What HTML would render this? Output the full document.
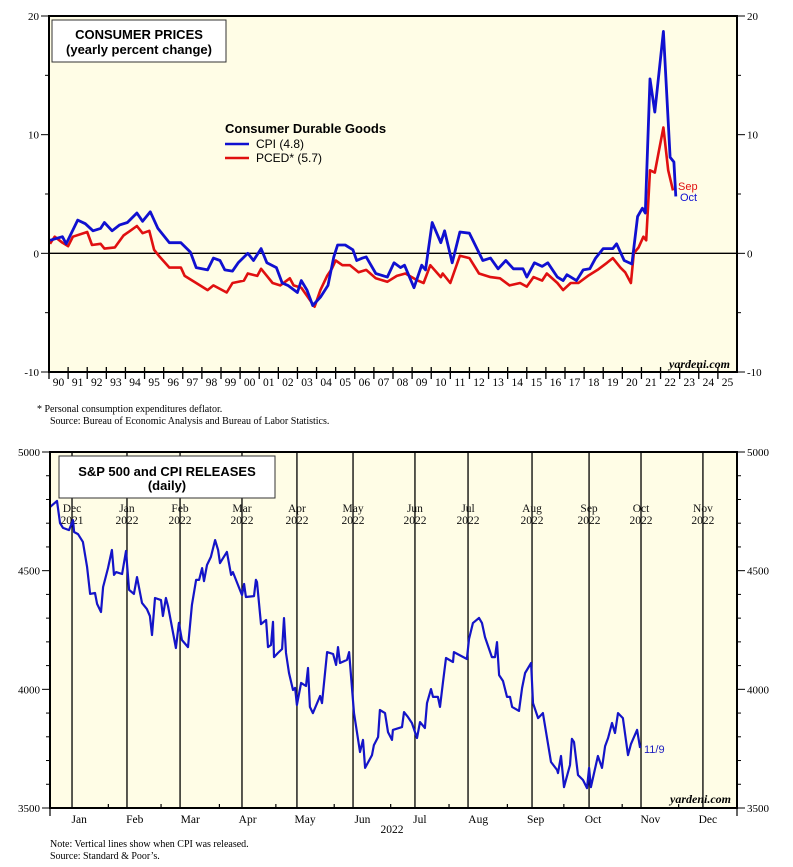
<!DOCTYPE html>
<html><head><meta charset="utf-8">
<style>
html,body{margin:0;padding:0;background:#fff;}
svg{display:block;}
.serif{font-family:"Liberation Serif",serif;}
.sans{font-family:"Liberation Sans",sans-serif;}
</style></head>
<body>
<svg id="svg" width="793" height="867" viewBox="0 0 793 867" xmlns="http://www.w3.org/2000/svg">
<rect x="0" y="0" width="793" height="867" fill="#fff"/>
</svg>
<script>
// ===== Top chart data =====
const cpiYears=[1990.05,1990.7,1990.9,1991.5,1991.9,1992.3,1992.7,1992.9,1993.3,1993.7,1994.1,1994.6,1994.9,1995.3,1995.7,1996.3,1996.9,1997.4,1997.7,1998.3,1998.6,1998.95,1999.2,1999.6,1999.9,2000.4,2000.7,2001.1,2001.4,2001.9,2002.2,2002.5,2003.0,2003.2,2003.5,2003.8,2004.2,2004.6,2004.9,2005.1,2005.5,2005.9,2006.1,2006.4,2006.6,2007.1,2007.7,2008.05,2008.4,2008.6,2009.1,2009.5,2009.7,2010.05,2010.5,2010.7,2011.1,2011.5,2012.0,2012.7,2013.1,2013.5,2013.9,2014.3,2014.8,2015.0,2015.4,2015.8,2016.1,2016.6,2016.9,2017.1,2017.6,2017.95,2018.3,2018.6,2019.0,2019.5,2019.7,2020.1,2020.5,2020.8,2021.05,2021.2,2021.45,2021.7,2022.15,2022.5,2022.7,2022.8];
const cpiValues=[1.1,1.4,0.8,2.8,2.5,1.9,2.1,2.6,1.9,2.4,2.6,3.4,2.7,3.5,2.1,0.9,0.9,0.1,-1.2,-1.4,-0.4,-0.6,-1.4,-1.5,-0.8,0,-0.6,0.4,-0.8,-1.2,-2.5,-2.7,-3.3,-2.3,-3.1,-4.4,-3.7,-2.7,-0.3,0.7,0.7,0.3,-0.6,-0.4,-0.3,-1.7,-2.0,-0.8,-1.2,-1.0,-2.9,-1.0,-1.4,2.6,0.9,1.9,-0.8,1.8,1.7,-0.6,-0.4,-1.3,-0.6,-1.3,-1.3,-2.0,-0.8,-1.1,-0.8,-2.0,-2.3,-1.8,-2.3,-1.4,-1.3,-0.4,0.4,0.4,0.8,-0.6,-0.9,3.1,3.8,3.4,14.7,11.9,18.7,8.1,7.7,4.8];
const pcedYears=[1990.05,1990.3,1990.7,1991.0,1991.25,1992.0,1992.25,1992.7,1992.9,1993.45,1993.9,1994.25,1994.6,1994.9,1995.25,1995.5,1995.8,1996.3,1996.9,1997.1,1997.7,1998.3,1998.6,1999.3,1999.6,2000.2,2000.4,2000.9,2001.1,2001.4,2001.7,2002.1,2002.6,2002.8,2003.2,2003.55,2003.9,2004.2,2004.55,2004.8,2005.0,2005.35,2005.75,2006.2,2006.6,2007.1,2007.7,2008.2,2008.65,2009.3,2009.6,2009.95,2010.5,2010.6,2011.0,2011.5,2012.0,2012.5,2013.1,2013.6,2014.1,2014.65,2015.0,2015.35,2015.8,2016.05,2016.6,2016.9,2017.3,2017.7,2018.2,2018.7,2019.2,2019.5,2019.9,2020.15,2020.45,2020.6,2020.85,2021.1,2021.25,2021.45,2021.7,2021.9,2022.15,2022.4,2022.65];
const pcedValues=[0.8,1.4,0.9,0.6,1.4,1.8,0.7,0.8,0.4,0.5,1.5,1.9,2.3,1.7,1.9,0.3,-0.3,-1.2,-1.2,-1.9,-2.5,-3.1,-2.7,-3.3,-2.5,-2.3,-1.7,-1.9,-1.3,-1.9,-2.5,-2.7,-2.1,-2.7,-2.9,-3.7,-4.5,-3.1,-1.9,-1.3,-0.6,-1.0,-1.0,-1.6,-1.4,-2.1,-2.4,-1.9,-1.7,-2.3,-2.5,-1.0,-2.0,-1.7,-2.5,-0.2,-0.4,-1.7,-2.0,-2.1,-2.7,-2.5,-2.8,-2.0,-2.3,-1.7,-2.5,-3.1,-2.5,-2.5,-1.9,-1.4,-0.8,-0.4,-1.2,-1.6,-2.5,0.0,0.5,1.4,1.1,7.0,6.8,8.5,10.6,7.0,5.3];
const yearLabels=["90","91","92","93","94","95","96","97","98","99","00","01","02","03","04","05","06","07","08","09","10","11","12","13","14","15","16","17","18","19","20","21","22","23","24","25"];
const topTicks=[-10,0,10,20];

// ===== Bottom chart data =====
const spDays=[0,3.7,5.3,6.9,10.1,12.2,12.8,14.9,17.5,19.7,21.3,23.9,25.0,27.1,28.2,30.8,32.9,34.0,35.1,38.3,40.4,42.0,44.6,46.2,48.9,51.5,53.1,54.2,55.8,59.0,60.0,61.6,62.7,66.9,68.5,70.1,73.3,75.4,77.6,79.2,80.8,81.8,83.4,85.5,87.7,89.3,90.3,94.0,96.2,97.2,102.0,103.1,104.1,108.4,109.4,110.0,112.1,114.8,115.8,117.4,118.5,119.0,121.1,123.3,124.3,125.4,127.0,129.1,130.2,131.2,133.4,136.0,137.1,138.1,139.7,143.5,144.5,147.2,150.4,152.0,153.0,154.1,157.8,158.9,161.5,164.7,166.3,167.4,171.1,172.1,174.3,175.3,178.0,179.6,181.7,182.2,187.0,188.1,190.2,192.3,195.0,196.6,199.2,200.3,202.4,203.5,206.1,207.2,208.8,210.4,214.1,214.6,221.5,222.6,224.7,227.9,229.5,231.1,234.8,236.4,237.5,238.6,240.7,242.8,244.4,245.5,249.2,250.8,252.4,255.6,256.6,259.3,261.9,266.2,269.4,269.9,271.5,273.1,276.3,277.3,278.4,280.5,283.2,285.3,286.4,287.4,291.1,293.3,294.9,296.5,298.6,300.2,301.8,304.4,307.1,308.7,311.9,313.5];
const spValues=[4768,4794,4701,4680,4671,4713,4663,4654,4621,4515,4402,4406,4360,4326,4431,4511,4587,4482,4494,4486,4583,4419,4402,4473,4364,4338,4309,4229,4385,4376,4309,4385,4351,4174,4280,4208,4178,4355,4461,4461,4511,4456,4524,4558,4629,4587,4532,4579,4482,4494,4397,4444,4389,4393,4461,4452,4275,4292,4178,4187,4284,4136,4153,4170,4300,4153,4069,3997,4006,3934,4027,4014,4090,3926,3900,3972,3942,4157,4149,4103,4178,4111,4124,4157,3900,3736,3787,3669,3723,3765,3799,3913,3900,3820,3787,3829,3841,3904,3883,3858,3795,3862,3837,3942,4001,3968,3968,3926,4031,4132,4115,4157,4128,4212,4279,4301,4279,4220,4136,4136,4199,4060,4035,3968,3968,3926,3909,4006,4069,4111,3942,3879,3900,3694,3660,3647,3719,3588,3681,3791,3778,3639,3618,3584,3669,3588,3719,3669,3761,3795,3858,3816,3900,3879,3723,3770,3829,3753];
const cpiReleaseDays=[11.7,40.9,69.1,102.0,131.2,161.0,193.9,222.1,256.1,286.4,314.0,346.9];
const cpiReleaseMonths=["Dec","Jan","Feb","Mar","Apr","May","Jun","Jul","Aug","Sep","Oct","Nov"];
const cpiReleaseYears=["2021","2022","2022","2022","2022","2022","2022","2022","2022","2022","2022","2022"];
const monthStarts=[0,31,59,90,120,151,181,212,243,273,304,334,365];
const monthLabels=["Jan","Feb","Mar","Apr","May","Jun","Jul","Aug","Sep","Oct","Nov","Dec"];
const bottomTicks=[3500,4000,4500,5000];

const NS="http://www.w3.org/2000/svg";
const svg=document.getElementById('svg');
function mk(tag,attrs,parent){const e=document.createElementNS(NS,tag);for(const k in attrs)e.setAttribute(k,attrs[k]);(parent||svg).appendChild(e);return e;}
function txt(s,attrs,parent){const e=mk('text',attrs,parent);e.textContent=s;return e;}

// ---------- TOP CHART ----------
const T={l:49,r:737,t:16,b:372,y0:1990,y1:2026,v0:-10,v1:20};
const tx=y=>T.l+(y-T.y0)/(T.y1-T.y0)*(T.r-T.l);
const ty=v=>T.b-(v-T.v0)/(T.v1-T.v0)*(T.b-T.t);
let g=mk('g',{});


let bg=mk('rect',{x:T.l,y:T.t,width:T.r-T.l,height:T.b-T.t,fill:'#fffde6'},g);


let zl=mk('line',{x1:T.l,x2:T.r,y1:ty(0),y2:ty(0),stroke:'#000','stroke-width':1.3},g);


for(let v=-10;v<=20;v+=5){
  const major=v%10===0;
  mk('line',{x1:T.l-(major?8:4),x2:T.l,y1:ty(v),y2:ty(v),stroke:'#000'},g);
  mk('line',{x1:T.r,x2:T.r+(major?8:4),y1:ty(v),y2:ty(v),stroke:'#000'},g);
}
topTicks.forEach(v=>{
  const a=txt(String(v),{x:T.l-10,y:ty(v)+4,'text-anchor':'end','font-size':11,class:'serif'},g);
  
  
  const b=txt(String(v),{x:T.r+10,y:ty(v)+4,'font-size':11,class:'serif'},g);
  
  
});
yearLabels.forEach((lab,i)=>{
  const x=tx(1990+i);
  mk('line',{x1:x,x2:x,y1:T.b-5,y2:T.b+7,stroke:'#000','stroke-width':1.3},g);
  const t=txt(lab,{x:tx(1990.5+i),y:T.b+14,'text-anchor':'middle','font-size':11.5,class:'serif'},g);
  
  
});
function line(xs,ys,fx,fy,color,w,parent){
  return mk('polyline',{points:xs.map((x,i)=>fx(x).toFixed(1)+','+fy(ys[i]).toFixed(1)).join(' '),fill:'none',stroke:color,'stroke-width':w,'stroke-linejoin':'round'},parent);
}
let pl=line(pcedYears,pcedValues,tx,ty,'#e01010',2.6,g);


let cl=line(cpiYears,cpiValues,tx,ty,'#1010d0',2.8,g);


mk('rect',{x:T.l,y:T.t,width:T.r-T.l,height:T.b-T.t,fill:'none',stroke:'#000','stroke-width':2},g);
let tb=mk('rect',{x:52,y:20,width:174,height:42,fill:'#fff',stroke:'#333','stroke-width':1},g);


let t1=txt('CONSUMER PRICES',{x:139,y:39,'text-anchor':'middle','font-size':13,'font-weight':'bold',class:'sans'},g);


let t2=txt('(yearly percent change)',{x:139,y:54,'text-anchor':'middle','font-size':13,'font-weight':'bold',class:'sans'},g);


let lgT=txt('Consumer Durable Goods',{x:225,y:133,'font-size':13,'font-weight':'bold',class:'sans'},g);


mk('line',{x1:225,x2:249,y1:144,y2:144,stroke:'#1010d0','stroke-width':2.6},g);
let l1=txt('CPI (4.8)',{x:256,y:148,'font-size':12,class:'sans'},g);


mk('line',{x1:225,x2:249,y1:158,y2:158,stroke:'#e01010','stroke-width':2.6},g);
let l2=txt('PCED* (5.7)',{x:256,y:162,'font-size':12,class:'sans'},g);


let sep=txt('Sep',{x:678,y:190,'font-size':11,fill:'#e01010',class:'sans'},g);


let oct=txt('Oct',{x:680,y:201,'font-size':11,fill:'#1010d0',class:'sans'},g);


let wm=txt('yardeni.com',{x:730,y:368,'text-anchor':'end','font-size':12,'font-weight':'bold','font-style':'italic',class:'serif'},g);


let n1=txt('*  Personal consumption expenditures deflator.',{x:37,y:412,'font-size':10,class:'serif'});


let n2=txt('Source: Bureau of Economic Analysis and Bureau of Labor Statistics.',{x:50,y:424,'font-size':10,class:'serif'});



// ---------- BOTTOM CHART ----------
const B={l:50,r:737,t:452,b:808,d0:0,d1:365,v0:3500,v1:5000};
const bx=d=>B.l+(d-B.d0)/(B.d1-B.d0)*(B.r-B.l);
const by=v=>B.b-(v-B.v0)/(B.v1-B.v0)*(B.b-B.t);
let g2=mk('g',{});


let bg2=mk('rect',{x:B.l,y:B.t,width:B.r-B.l,height:B.b-B.t,fill:'#fffde6'},g2);


cpiReleaseDays.forEach((d,i)=>{
  const x=bx(d);
  const vl=mk('line',{x1:x,x2:x,y1:B.t,y2:B.b,stroke:'#000','stroke-width':1.3},g2);
  
  
  const a=txt(cpiReleaseMonths[i],{x:x,y:512,'text-anchor':'middle','font-size':11.5,class:'serif',fill:'#111'},g2);
  
  
  const b=txt(cpiReleaseYears[i],{x:x,y:524,'text-anchor':'middle','font-size':11.5,class:'serif',fill:'#111'},g2);
  
  
});
for(let v=3500;v<=5000;v+=100){
  const major=v%500===0;
  mk('line',{x1:B.l-(major?8:4),x2:B.l,y1:by(v),y2:by(v),stroke:'#000'},g2);
  mk('line',{x1:B.r,x2:B.r+(major?8:4),y1:by(v),y2:by(v),stroke:'#000'},g2);
}
bottomTicks.forEach(v=>{
  const a=txt(String(v),{x:B.l-10,y:by(v)+4,'text-anchor':'end','font-size':11,class:'serif'},g2);
  
  
  const b=txt(String(v),{x:B.r+10,y:by(v)+4,'font-size':11,class:'serif'},g2);
  
  
});
monthStarts.forEach((d,i)=>{
  const x=bx(d);
  mk('line',{x1:x,x2:x,y1:B.b-4,y2:B.b+(i===0||i===12?8:0),stroke:'#000','stroke-width':1.2},g2);
  if(i<12){
    const t=txt(monthLabels[i],{x:bx((d+monthStarts[i+1])/2),y:B.b+15,'text-anchor':'middle','font-size':11.5,class:'serif'},g2);
    
    
  }
});
let yr=txt('2022',{x:392,y:833,'text-anchor':'middle','font-size':11.5,class:'serif'},g2);


let sl=line(spDays,spValues,bx,by,'#1414c8',2.2,g2);


mk('rect',{x:B.l,y:B.t,width:B.r-B.l,height:B.b-B.t,fill:'none',stroke:'#000','stroke-width':2},g2);
let tb2=mk('rect',{x:59,y:456,width:216,height:42,fill:'#fff',stroke:'#333','stroke-width':1},g2);


let bt1=txt('S&P 500 and CPI RELEASES',{x:167,y:476,'text-anchor':'middle','font-size':13,'font-weight':'bold',class:'sans'},g2);


let bt2=txt('(daily)',{x:167,y:490,'text-anchor':'middle','font-size':13,'font-weight':'bold',class:'sans'},g2);


let lab119=txt('11/9',{x:644,y:753,'font-size':11,fill:'#2020c0',class:'sans'},g2);


let wm2=txt('yardeni.com',{x:731,y:803,'text-anchor':'end','font-size':12,'font-weight':'bold','font-style':'italic',class:'serif'},g2);


let bn1=txt('Note: Vertical lines show when CPI was released.',{x:50,y:847,'font-size':10,class:'serif'});


let bn2=txt('Source: Standard & Poor\u2019s.',{x:50,y:859,'font-size':10,class:'serif'});


</script>
</body></html>
